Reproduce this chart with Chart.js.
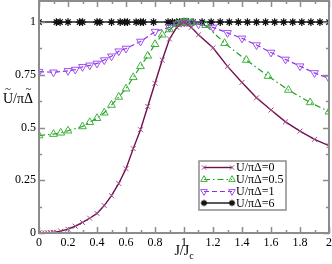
<!DOCTYPE html>
<html>
<head>
<meta charset="utf-8">
<script src="https://cdn.jsdelivr.net/npm/chart.js@4/dist/chart.umd.min.js"></script>
<style>
  html, body { margin: 0; padding: 0; background: #fff; }
  #wrap { width: 332px; height: 264px; }
</style>
</head>
<body>
<div id="wrap"><canvas id="chart" width="332" height="264"></canvas></div>
<script>
// data
const seriesLabels = ['U/πΔ=0', 'U/πΔ=0.5', 'U/πΔ=1', 'U/πΔ=6'];

const jU0 = [0, 0.02, 0.04, 0.06, 0.08, 0.1, 0.15, 0.2, 0.25, 0.3, 0.35, 0.4, 0.45, 0.5, 0.55, 0.6, 0.65, 0.7, 0.75, 0.8, 0.85, 0.9, 0.95, 0.98, 1.0, 1.02, 1.05, 1.1, 1.2, 1.3, 1.4, 1.5, 1.6, 1.7, 1.8, 1.9, 2.0];
const vU0 = [0, 0, 0.0005, 0.001, 0.002, 0.003, 0.009, 0.018, 0.032, 0.05, 0.07, 0.093, 0.13, 0.177, 0.235, 0.305, 0.40, 0.49, 0.60, 0.71, 0.82, 0.92, 0.975, 0.993, 1.0, 0.99, 0.975, 0.94, 0.878, 0.79, 0.714, 0.641, 0.583, 0.527, 0.483, 0.444, 0.414];

const jU05 = [0, 0.1, 0.15, 0.2, 0.3, 0.35, 0.4, 0.45, 0.5, 0.55, 0.6, 0.65, 0.7, 0.75, 0.8, 0.85, 0.9, 0.95, 0.98, 1.0, 1.02, 1.05, 1.15, 1.28, 1.43, 1.58, 1.72, 1.87, 2.0];
const vU05 = [0.462, 0.469, 0.475, 0.485, 0.505, 0.525, 0.544, 0.57, 0.607, 0.645, 0.684, 0.738, 0.79, 0.84, 0.895, 0.94, 0.965, 0.99, 0.997, 1.0, 0.999, 0.997, 0.985, 0.9, 0.82, 0.744, 0.678, 0.619, 0.575];

const jU1 = [0, 0.1, 0.2, 0.25, 0.3, 0.35, 0.4, 0.45, 0.5, 0.55, 0.6, 0.7, 0.8, 0.9, 0.95, 0.98, 1.0, 1.02, 1.05, 1.1, 1.2, 1.3, 1.4, 1.5, 1.6, 1.7, 1.8, 1.9, 2.0];
const vU1 = [0.765, 0.762, 0.769, 0.775, 0.788, 0.795, 0.804, 0.82, 0.838, 0.862, 0.875, 0.908, 0.955, 0.975, 0.99, 0.997, 1.0, 0.999, 0.996, 0.99, 0.975, 0.949, 0.923, 0.891, 0.856, 0.823, 0.791, 0.759, 0.733];

const jU6 = [0, 0.12, 0.145, 0.2, 0.28, 0.3, 0.4, 0.42, 0.5, 0.56, 0.59, 0.61, 0.67, 0.7, 0.72, 0.79, 0.89, 0.92, 0.95, 0.97, 0.99, 1.0, 1.01, 1.03, 1.0625, 1.125, 1.1875, 1.25, 1.3125, 1.375, 1.4375, 1.5, 1.5625, 1.625, 1.6875, 1.75, 1.8125, 1.875, 1.9375, 2.0];
const vU6 = jU6.map(() => 1);

const xTicks = [0, 0.2, 0.4, 0.6, 0.8, 1, 1.2, 1.4, 1.6, 1.8, 2];
const xTickLabels = ['0', '0.2', '0.4', '0.6', '0.8', '1', '1.2', '1.4', '1.6', '1.8', '2'];
const yTicks = [0, 0.25, 0.5, 0.75, 1];
const yTickLabels = ['0', '0.25', '0.5', '0.75', '1'];

const serif = '"Liberation Serif", "DejaVu Serif", serif';
const frameColor = '#8c8c8c';

function toPoints(xs, ys) {
    return xs.map((x, i) => ({ x: x, y: ys[i] }));
}

const datasets = [
    {
        label: seriesLabels[0], data: toPoints(jU0, vU0),
        borderColor: '#6e0f4e', borderWidth: 1.4,
        pointStyle: 'crossRot', pointRadius: 3.5, pointBorderColor: '#a04a86', pointBorderWidth: 1,
        pointBackgroundColor: 'transparent'
    },
    {
        label: seriesLabels[1], data: toPoints(jU05, vU05),
        borderColor: '#22a022', borderWidth: 1.2, borderDash: [6, 3, 1.5, 3],
        pointStyle: 'triangle', pointRadius: 4.5, pointBorderColor: '#3cb43c', pointBorderWidth: 1,
        pointBackgroundColor: 'rgba(255,255,255,0)'
    },
    {
        label: seriesLabels[2], data: toPoints(jU1, vU1),
        borderColor: '#8f2ee8', borderWidth: 1.2, borderDash: [5, 3],
        pointStyle: 'triangle', pointRotation: 180, pointRadius: 4.5, pointBorderColor: '#a050f0', pointBorderWidth: 1,
        pointBackgroundColor: 'rgba(255,255,255,0)'
    },
    {
        label: seriesLabels[3], data: toPoints(jU6, vU6),
        borderColor: '#5a5a5a', borderWidth: 2,
        pointStyle: 'star', pointRadius: 3.8, pointBorderColor: '#111', pointBorderWidth: 1.3,
        pointBackgroundColor: '#111'
    }
];

function noPadding(s) {
    s.paddingLeft = 0; s.paddingRight = 0; s.paddingTop = 0; s.paddingBottom = 0;
}

// frame, inward ticks (major + minor), axis titles and legend box
const decorations = {
    id: 'decorations',
    afterDraw(chart) {
        const ctx = chart.ctx;
        const a = chart.chartArea;
        const xs = chart.scales.x, ys = chart.scales.y;
        ctx.save();
        ctx.strokeStyle = frameColor;
        ctx.lineWidth = 1.5;
        for (let v = 0; v <= 2.0001; v += 0.1) {
            const px = Math.round(xs.getPixelForValue(v)) + 0.5;
            const len = Math.abs(v * 5 - Math.round(v * 5)) < 1e-6 ? 6 : 3;
            ctx.beginPath();
            ctx.moveTo(px, a.bottom); ctx.lineTo(px, a.bottom - len);
            ctx.moveTo(px, a.top); ctx.lineTo(px, a.top + len);
            ctx.stroke();
        }
        for (let v = 0; v <= 1.0001; v += 0.125) {
            const py = Math.round(ys.getPixelForValue(v)) + 0.5;
            const len = Math.abs(v * 4 - Math.round(v * 4)) < 1e-6 ? 6 : 3;
            ctx.beginPath();
            ctx.moveTo(a.left, py); ctx.lineTo(a.left + len, py);
            ctx.moveTo(a.right, py); ctx.lineTo(a.right - len, py);
            ctx.stroke();
        }
        ctx.lineWidth = 2;
        ctx.strokeRect(a.left, a.top, a.right - a.left, a.bottom - a.top);

        // axis titles
        ctx.fillStyle = '#000';
        ctx.textBaseline = 'alphabetic';
        ctx.textAlign = 'left';
        const main = 'J/J';
        ctx.font = '14px ' + serif;
        const mw = ctx.measureText(main).width;
        ctx.font = '10px ' + serif;
        const sw = ctx.measureText('c').width;
        const cx = (a.left + a.right) / 2;
        const tx = cx - (mw + sw) / 2;
        ctx.font = '14px ' + serif;
        ctx.fillText(main, tx, 255);
        ctx.font = '10px ' + serif;
        ctx.fillText('c', tx + mw, 259);

        // y title, tildes placed by hand over U and Delta
        ctx.font = '14px ' + serif;
        ctx.fillText('U/πΔ', 3, 103);
        const uw = ctx.measureText('U').width;
        const pre = ctx.measureText('U/π').width;
        const dw = ctx.measureText('Δ').width;
        ctx.font = '11px ' + serif;
        ctx.textAlign = 'center';
        ctx.fillText('~', 3 + uw / 2, 92);
        ctx.fillText('~', 3 + pre + dw / 2, 92);

        // legend
        const lx = 199, ly = 161, lw = 87, lh = 49;
        ctx.fillStyle = '#fff';
        ctx.fillRect(lx, ly, lw, lh);
        ctx.strokeStyle = frameColor;
        ctx.lineWidth = 1.5;
        ctx.strokeRect(lx, ly, lw, lh);
        const rows = [167.5, 179.5, 191.5, 203];
        chart.data.datasets.forEach((ds, i) => {
            const y = rows[i];
            ctx.save();
            ctx.strokeStyle = ds.borderColor;
            ctx.lineWidth = ds.borderWidth;
            ctx.setLineDash(ds.borderDash || []);
            ctx.beginPath();
            ctx.moveTo(204, y); ctx.lineTo(232, y);
            ctx.stroke();
            ctx.setLineDash([]);
            ctx.strokeStyle = ds.pointBorderColor;
            ctx.fillStyle = ds.pointBackgroundColor;
            ctx.lineWidth = ds.pointBorderWidth;
            const opts = { pointStyle: ds.pointStyle, radius: ds.pointRadius * 0.85, rotation: ds.pointRotation || 0, borderWidth: ds.pointBorderWidth };
            Chart.helpers.drawPoint(ctx, opts, 204, y);
            Chart.helpers.drawPoint(ctx, opts, 232, y);
            ctx.restore();
            ctx.fillStyle = '#000';
            ctx.font = '12px ' + serif;
            ctx.textAlign = 'left';
            ctx.textBaseline = 'middle';
            ctx.fillText(ds.label, 236, y + 0.5);
        });
        ctx.restore();
    }
};

new Chart(document.getElementById('chart'), {
    type: 'line',
    data: { datasets: datasets },
    options: {
        responsive: false,
        animation: false,
        events: [],
        layout: { autoPadding: false, padding: { top: 1, right: 3, left: 0, bottom: 0 } },
        elements: { line: { tension: 0, fill: false } },
        plugins: {
            legend: { display: false },
            tooltip: { enabled: false }
        },
        scales: {
            x: {
                type: 'linear', min: 0, max: 2,
                grid: { display: false, drawTicks: false },
                border: { display: false },
                afterBuildTicks: (s) => { s.ticks = xTicks.map(v => ({ value: v })); },
                afterFit: (s) => { s.height = 31; noPadding(s); },
                ticks: {
                    padding: 3, color: '#000', maxRotation: 0, autoSkip: false,
                    font: { family: serif, size: 12 },
                    callback: (v) => xTickLabels[xTicks.indexOf(v)]
                }
            },
            y: {
                type: 'linear', min: 0, max: 1.1,
                grid: { display: false, drawTicks: false },
                border: { display: false },
                afterBuildTicks: (s) => { s.ticks = yTicks.map(v => ({ value: v })); },
                afterFit: (s) => { s.width = 39; noPadding(s); },
                ticks: {
                    padding: 3, color: '#000', autoSkip: false,
                    font: { family: serif, size: 12 },
                    callback: (v) => yTickLabels[yTicks.indexOf(v)]
                }
            }
        }
    },
    plugins: [decorations]
});
</script>
</body>
</html>
